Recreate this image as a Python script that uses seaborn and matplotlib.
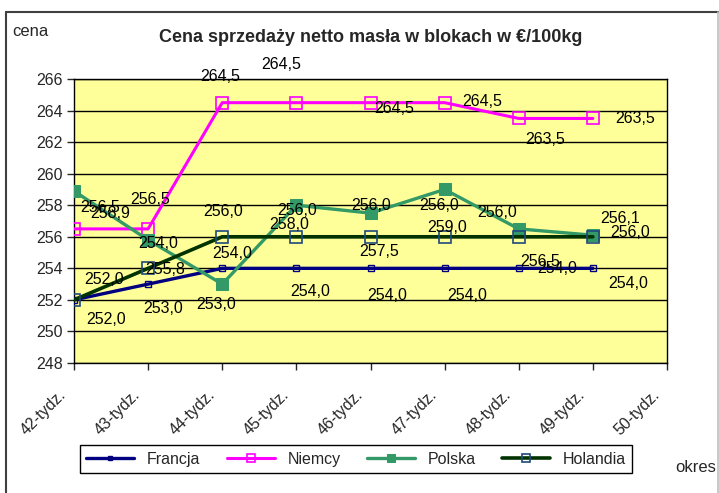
import pandas as pd
import matplotlib.pyplot as plt
import matplotlib.transforms as mtransforms
import seaborn as sns
from matplotlib.lines import Line2D

# === Data: weekly net selling price of block butter (EUR/100kg) ===
weeks = [42, 43, 44, 45, 46, 47, 48, 49]
week_labels = ["42-tydz.", "43-tydz.", "44-tydz.", "45-tydz.", "46-tydz.",
               "47-tydz.", "48-tydz.", "49-tydz.", "50-tydz."]
francja = [252.0, 253.0, 254.0, 254.0, 254.0, 254.0, 254.0, 254.0]
niemcy = [256.5, 256.5, 264.5, 264.5, 264.5, 264.5, 263.5, 263.5]
polska = [258.9, 255.8, 253.0, 258.0, 257.5, 259.0, 256.5, 256.1]
holandia = [252.0, 254.0, 256.0, 256.0, 256.0, 256.0, 256.0, 256.0]

# label offsets in pixels (dx right, dy down) - copied from the Excel layout
off_francja = [(32, 20), (15, 24), (10, -15), (14, 23), (17, 27), (23, 27), (38, 0), (35, 15)]
off_niemcy = [(26, -21), (2, -29), (-2, -26), (-15, -38), (24, 6), (38, -1), (26, 21), (42, 0)]
off_polska = [(36, 22), (17, 30), (-6, 20), (-7, 19), (9, 38), (3, 38), (21, 33), (27, -17)]
off_holandia = [(30, -20), (10, -25), (1, -25), (1, -26), (1, -31), (-6, -31), (-22, -24), (37, -4)]

sns.set_theme(style="white")
plt.rcParams['font.family'] = ['Liberation Sans', 'DejaVu Sans']

W, H = 719, 493
fig = plt.figure(figsize=(W / 100, H / 100), dpi=100)
ax = fig.add_axes([74 / W, 1 - 363 / H, (667 - 74) / W, (363 - 79) / H])
ax.set_facecolor("#FFFF99")

series = [
    ("Francja", francja, off_francja,
     dict(color="#000080", lw=2.4, marker="s", markersize=4, markerfacecolor="none",
          markeredgecolor="#000080", markeredgewidth=1.0)),
    ("Niemcy", niemcy, off_niemcy,
     dict(color="#FF00FF", lw=2.2, marker="s", markersize=8, markerfacecolor="none",
          markeredgecolor="#FF00FF", markeredgewidth=1.2)),
    ("Polska", polska, off_polska,
     dict(color="#339966", lw=2.4, marker="s", markersize=8, markerfacecolor="#339966",
          markeredgecolor="#339966")),
    ("Holandia", holandia, off_holandia,
     dict(color="#003300", lw=2.6, marker="s", markersize=8, markerfacecolor="none",
          markeredgecolor="#1F497D", markeredgewidth=1.2)),
]

for name, vals, offs, style in series:
    df = pd.DataFrame({"week": weeks, "price": vals})
    sns.lineplot(data=df, x="week", y="price", ax=ax, label=name, zorder=3, **style)
    for w, v, (dx, dy) in zip(weeks, vals, offs):
        ax.annotate(f"{v:.1f}".replace(".", ","), (w, v), xytext=(dx, -dy),
                    textcoords="offset pixels", ha="center", va="center",
                    fontsize=11.5, color="black", zorder=5, annotation_clip=False)

ax.set_xlim(42, 50)
ax.set_ylim(248, 266)
ax.set_yticks(range(248, 267, 2))
ax.set_xticks(range(42, 51))
ax.tick_params(axis="y", labelsize=11.5, length=5, width=1, direction="out", left=True, pad=3)
ax.tick_params(axis="x", length=5, width=1, direction="out", bottom=True, pad=16)
ax.set_xticklabels(week_labels, rotation=45, ha="right", va="center",
                   rotation_mode="anchor", fontsize=11.5)
# nudge the slanted week labels left, like Excel places them
shift = mtransforms.ScaledTranslation(-10 / 100, 0, fig.dpi_scale_trans)
for lbl in ax.get_xticklabels():
    lbl.set_transform(lbl.get_transform() + shift)
ax.grid(True, axis="y", color="black", lw=1)
ax.set_axisbelow(True)
for sp in ax.spines.values():
    sp.set_color("black")
    sp.set_linewidth(1)
ax.set_xlabel("")
ax.set_ylabel("")

ax.legend_.remove()
handles, labels = ax.get_legend_handles_labels()
fig.legend(handles, labels, loc="lower left", ncol=4, mode="expand",
           bbox_to_anchor=(80 / W, 1 - 473 / H, (632 - 80) / W, 35 / H),
           frameon=True, fancybox=False, edgecolor="black", fontsize=11.5,
           handlelength=3, borderaxespad=0, framealpha=1, markerscale=0.75)

fig.text(371 / W, 1 - 38 / H, "Cena sprzedaży netto masła w blokach w €/100kg",
         ha="center", va="center", fontsize=13, fontweight="bold")
fig.text(12 / W, 1 - 32 / H, "cena", ha="left", va="center", fontsize=12)
fig.text(716 / W, 1 - 468 / H, "okres", ha="right", va="center", fontsize=12)

# outer chart frame (top/left dark, right light)
fig.add_artist(Line2D([6 / W, 1], [1 - 12 / H, 1 - 12 / H], color="#404040", lw=1.5))
fig.add_artist(Line2D([6 / W, 6 / W], [0, 1 - 12 / H], color="#404040", lw=1.5))
fig.add_artist(Line2D([718 / W, 718 / W], [0, 1 - 12 / H], color="#C0C0C0", lw=1.2))

fig.savefig("out.png", dpi=100)
